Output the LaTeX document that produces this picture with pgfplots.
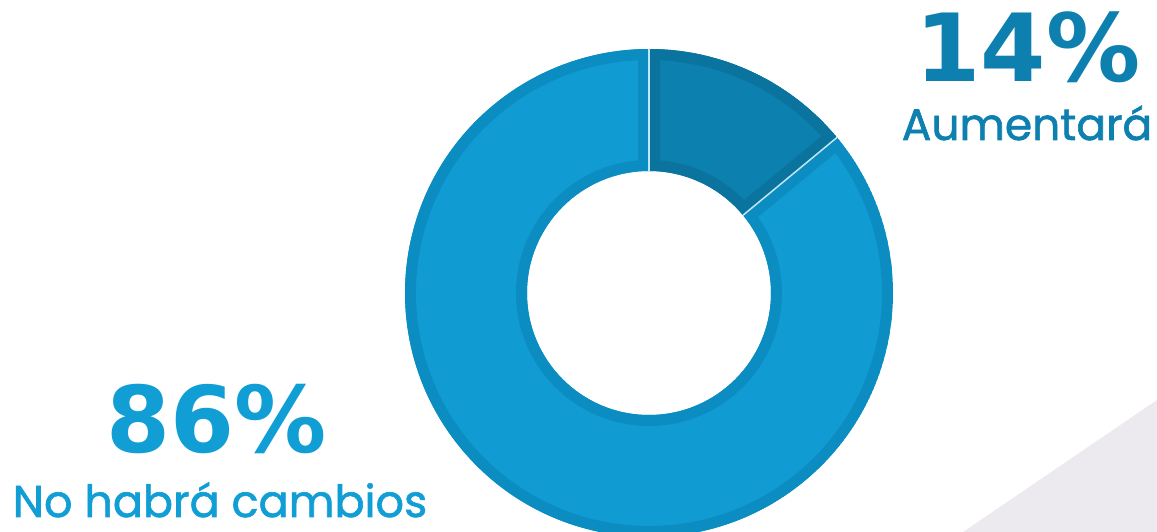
\documentclass[border=0pt]{standalone}
\usepackage{fontspec}
\setmainfont{Poppins}
\newfontfamily\numfont{DejaVu Sans}[BoldFont={DejaVu Sans Bold}]
\newfontfamily\labelfont{Poppins}[FakeBold=1.4]
\usepackage{pgfplots}
\usepackage{pgfplotstable}
\pgfplotsset{compat=1.18}
\definecolor{mainfill}{RGB}{16,156,211}
\definecolor{mainedge}{RGB}{12,141,194}
\definecolor{darkfill}{RGB}{12,128,174}
\definecolor{darkedge}{RGB}{10,116,158}
\definecolor{txtdark}{RGB}{14,128,176}
\definecolor{txtmain}{RGB}{16,158,213}
\pgfplotstableread{
slice value
Aumentara 14
NoCambios 86
}\datatable
\begin{document}
\begin{tikzpicture}[x=1pt,y=1pt]
\pgfplotstablegetelem{0}{value}\of\datatable
\pgfmathsetmacro\aA{90}
\pgfmathsetmacro\aB{90-3.6*\pgfplotsretval}
\pgfplotstablegetelem{1}{value}\of\datatable
\pgfmathsetmacro\aC{\aB-3.6*\pgfplotsretval}
% background decoration
\fill[color={rgb,255:red,236;green,234;blue,238}] (963,0) -- (1157,132) -- (1157,0) -- cycle;
\def\sector#1#2{(axis cs:{cos(#1)},{sin(#1)}) arc[start angle=#1,end angle=#2,radius=244pt] -- (axis cs:{0.5*cos(#2)},{0.5*sin(#2)}) arc[start angle=#2,end angle=#1,radius=122pt] -- cycle}
\begin{axis}[x=244pt,y=244pt,xmin=-1.05,xmax=1.05,ymin=-1.05,ymax=1.05,
  hide axis, clip=false, at={(649pt,239pt)}, anchor=origin, disabledatascaling]
\begin{scope}
\clip \sector{\aA}{\aB};
\fill[darkfill] \sector{\aA}{\aB};
\draw[darkedge,line width=22pt] \sector{\aA}{\aB};
\end{scope}
\begin{scope}
\clip \sector{\aB}{\aC};
\fill[mainfill] \sector{\aB}{\aC};
\draw[mainedge,line width=22pt] \sector{\aB}{\aC};
\end{scope}
\draw[white!75!mainfill,line width=1.5pt] (axis cs:{0.5*cos(\aA)},{0.5*sin(\aA)}) -- (axis cs:{cos(\aA)},{sin(\aA)});
\draw[white!75!mainfill,line width=1.5pt] (axis cs:{0.5*cos(\aB)},{0.5*sin(\aB)}) -- (axis cs:{cos(\aB)},{sin(\aB)});
\end{axis}
\node[anchor=base,text=txtdark,inner sep=0pt] at (1028,450) {\numfont\bfseries\fontsize{94}{94}\selectfont 14\%};
\node[anchor=base,text=txtdark,inner sep=0pt] at (1027,392) {\labelfont\fontsize{44}{44}\selectfont Aumentará};
\node[anchor=base,text=txtmain,inner sep=0pt] at (217,79) {\numfont\bfseries\fontsize{92}{92}\selectfont 86\%};
\node[anchor=base,text=txtmain,inner sep=0pt] at (220,15) {\labelfont\fontsize{44.5}{44.5}\selectfont No habrá cambios};
\pgfresetboundingbox
\useasboundingbox (0,0) rectangle (1157,532);
\end{tikzpicture}
\end{document}
